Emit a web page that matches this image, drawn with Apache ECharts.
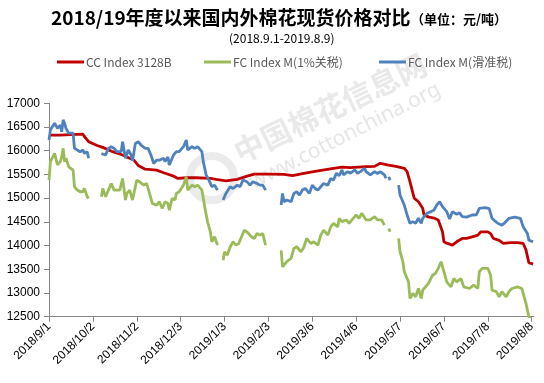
<!DOCTYPE html>
<html><head><meta charset="utf-8">
<script src="https://cdn.jsdelivr.net/npm/echarts@6/dist/echarts.min.js"></script>
<style>html,body{margin:0;padding:0;background:#fff}#c{width:544px;height:383px}</style>
</head><body><div id="c"></div>
<script>
// x = days since 2018-09-01
const tickDays = [0,31,62,93,124,155,186,217,248,279,310,341];
const tickLabels = ['2018/9/1','2018/10/2','2018/11/2','2018/12/3','2019/1/3','2019/2/3','2019/3/6','2019/4/6','2019/5/7','2019/6/7','2019/7/8','2019/8/8'];
const yTicks = [12500,13000,13500,14000,14500,15000,15500,16000,16500,17000];

const ccDays = [0,8,15,24,25,28,34,38,45,52,57,60,63,68,76,81,88,91,97,104,114,118,125,133,140,145,156,166,172,180,189,201,207,213,224,230,234,239,246,251,253,255,258,261,264,265,268,272,275,278,279,281,285,288,292,295,299,303,305,310,312,314,318,321,326,331,335,337,339,342];
const ccValues = [16330,16330,16340,16350,16300,16190,16110,16070,15980,15910,15840,15800,15690,15610,15590,15535,15465,15415,15430,15430,15415,15395,15365,15395,15465,15505,15505,15500,15475,15520,15570,15630,15655,15645,15665,15670,15735,15700,15665,15630,15560,15350,15000,14925,14785,14645,14605,14580,14540,14290,14080,14050,14010,14080,14150,14150,14185,14220,14290,14290,14250,14150,14110,14045,14060,14060,14045,13905,13640,13610];

const fc1Days = [0,1,4,6,8,9,10,11,12,14,15,17,18,20,22,24,25,27,28,32,37,38,40,42,44,46,48,50,52,54,55,57,59,61,62,64,67,69,71,73,76,78,80,82,84,85,87,89,90,92,95,97,98,101,103,105,108,110,112,114,115,117,119,121,123,124,126,128,130,132,134,136,138,141,143,145,147,149,151,153,158,164,165,166,168,171,173,175,178,180,182,185,187,190,192,194,197,199,201,204,205,207,210,212,214,217,219,221,224,225,227,228,230,232,235,237,239,240,241,244,247,248,250,251,253,254,255,257,259,261,263,264,266,268,271,273,275,277,279,281,284,286,288,291,293,297,300,303,304,306,310,312,313,316,318,320,323,325,327,331,334,335,337,339,341];
const fc1Values = [15380,15770,15945,15700,15770,15875,16050,15770,15840,15660,15700,15590,15240,15170,15135,15135,15205,15030,14995,null,15030,15205,15030,15170,15310,15170,15170,15170,15415,14960,15100,15170,14960,15240,15380,15345,15275,15310,15100,14890,14850,14925,14780,14925,14890,14745,14995,14960,15100,15135,15275,15450,15170,15275,15240,15275,15170,14820,14500,14290,14080,14185,14010,null,13690,13865,13800,13970,14080,14010,14040,14185,14325,14255,14185,14150,14255,14220,14255,14010,null,13900,13550,13590,13660,13730,13940,13975,13870,13960,14150,14045,14080,14010,14220,14325,14220,14395,14470,14395,14575,14505,14540,14470,14540,14645,14575,14680,14540,14575,14540,14505,14610,14540,14540,14430,null,14360,14290,null,14150,13870,13660,13450,13305,13235,12885,12990,12920,13095,12885,13060,13130,13200,13375,13410,13520,13660,13450,13235,13130,13305,13235,13305,13130,13095,13165,13095,13450,13520,13520,13375,13060,13030,12920,13030,12920,13030,13095,13130,13095,13060,12780,12500,12400];

const fcsDays = [0,1,4,6,8,9,10,11,12,14,15,17,18,20,22,24,25,27,28,32,37,38,40,42,44,46,48,51,52,54,56,58,59,61,63,65,68,70,72,74,76,78,81,82,84,85,88,90,92,95,97,98,101,103,105,108,109,111,113,115,117,119,121,123,125,128,130,133,135,137,140,142,144,147,149,151,153,158,164,165,166,168,171,173,175,177,179,181,184,186,188,190,192,194,197,199,201,203,205,207,208,211,213,216,218,220,223,224,225,227,230,232,234,237,238,239,240,241,244,247,248,250,251,253,255,257,259,261,263,264,265,267,270,272,274,276,278,281,283,285,288,290,292,295,299,302,304,308,311,313,315,317,320,322,325,329,333,335,338,339,342];
const fcsValues = [16225,16440,16580,16470,16540,16400,16650,16580,16470,16370,16400,16370,16050,16015,15980,16015,15945,15980,15840,null,15940,15980,15910,16050,16085,16050,15980,15980,16190,15840,16015,15910,15790,16155,16190,16120,16050,16050,15910,15730,15800,15800,15840,15770,15870,15700,15910,15980,15980,16085,16225,16015,16085,16050,16085,15980,15770,15490,15380,15240,15275,15170,null,14960,15100,15240,15205,15275,15240,15380,15345,15275,15345,15310,15275,15275,15170,null,14855,15100,14925,14960,14925,15100,15135,15065,15170,15205,15100,15275,15205,15170,15240,15310,15275,15415,15380,15525,15475,15595,15490,15560,15525,15595,15525,15560,15630,15560,15525,15490,15560,15520,15560,15490,15420,null,15450,15380,null,15275,15065,14925,14855,14645,14470,14505,14470,14575,14470,14575,14610,14680,14715,14750,14855,14925,14820,14715,14560,14715,14660,14690,14610,14600,14645,14650,14785,14800,14780,14575,14520,14470,14430,14480,14575,14600,14575,14395,14255,14115,14080];

const seriesNames = ['CC Index 3128B','FC Index M(1%关税)','FC Index M(滑准税)'];
const seriesColors = ['#C00000','#9BBB59','#4F81BD'];

function pairs(days, vals){ return days.map((d,i)=>[d, vals[i]==null?'-':vals[i]]); }

const chart = echarts.init(document.getElementById('c'), null, {renderer:'canvas'});
const cjk = "'Noto Sans CJK SC','Noto Sans',sans-serif";
const lat = "'Liberation Sans','Noto Sans CJK SC',sans-serif";
const legendLefts = [52, 199, 374];
chart.setOption({
  animation:false,
  backgroundColor:'#fff',
  title:[
    {text:'2018/19年度以来国内外棉花现货价格对比', left:46, top:3, textStyle:{fontFamily:cjk, fontSize:19, fontWeight:'bold', color:'#000'}},
    {text:'（单位：元/吨）', left:406, top:8, textStyle:{fontFamily:cjk, fontSize:13, fontWeight:'bold', color:'#000'}},
    {text:'(2018.9.1-2019.8.9)', left:224, top:27, textStyle:{fontFamily:cjk, fontSize:12, fontWeight:'normal', color:'#000'}}
  ],
  legend: seriesNames.map((n,i)=>({
    data:[n], left:legendLefts[i], top:51, icon:'rect', itemWidth:27, itemHeight:3,
    textStyle:{fontFamily:cjk, fontSize:12, color:'#595959', padding:[0,0,0,-3]}
  })),
  graphic:[
    {type:'text', x:330, y:108, rotation:0.45, z:-1, style:{text:'中国棉花信息网', font:"bold 30px 'Noto Sans CJK SC'", fill:'#e9e9e9', textAlign:'center', textVerticalAlign:'middle'}},
    {type:'text', x:345, y:136, rotation:0.47, z:-1, style:{text:'www.cottonchina.org', font:"21px 'Noto Sans'", fill:'#e6e6e6', textAlign:'center', textVerticalAlign:'middle'}},
    {type:'circle', x:212, y:178, z:-1, shape:{r:22}, style:{fill:'none', stroke:'#ebebeb', lineWidth:8}}
  ],
  grid:{left:49, top:103.3, width:484.8, height:213.4, containLabel:false},
  xAxis:{type:'value', min:0, max:342.5,
    axisLine:{show:true, lineStyle:{color:'#868686', width:1}},
    axisTick:{show:true, customValues:tickDays, length:5, lineStyle:{color:'#868686'}},
    axisLabel:{customValues:tickDays, rotate:45, margin:8, fontFamily:lat, fontSize:12, color:'#000',
      formatter:v=>{const k=tickDays.indexOf(Math.round(v)); return k>=0?tickLabels[k]:'';}},
    splitLine:{show:false}},
  yAxis:{type:'value', min:yTicks[0], max:yTicks[yTicks.length-1], interval:500,
    axisLine:{show:true, lineStyle:{color:'#868686', width:1}},
    axisTick:{show:true, length:5, lineStyle:{color:'#868686'}},
    axisLabel:{margin:9, fontFamily:lat, fontSize:12, color:'#000', formatter:v=>String(v)},
    splitLine:{show:false}},
  series:[
    {name:seriesNames[0], type:'line', data:pairs(ccDays, ccValues)},
    {name:seriesNames[1], type:'line', data:pairs(fc1Days, fc1Values)},
    {name:seriesNames[2], type:'line', data:pairs(fcsDays, fcsValues)}
  ].map((s,i)=>Object.assign(s,{showSymbol:false, symbol:'none', clip:true, connectNulls:false, color:seriesColors[i], lineStyle:{width:2.8, color:seriesColors[i]}}))
});
</script></body></html>
